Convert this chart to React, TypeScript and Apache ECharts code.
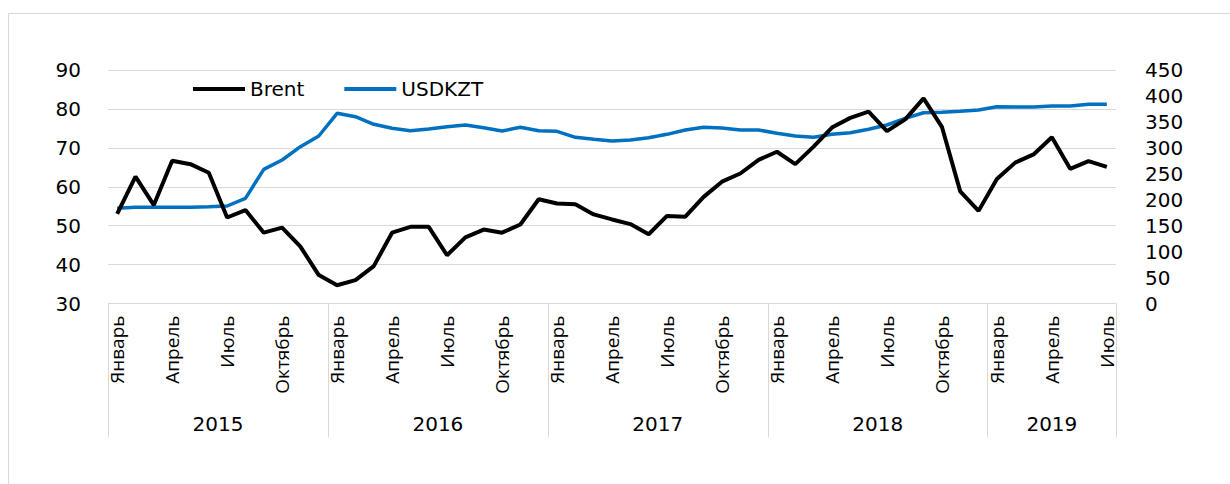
import React, { useEffect, useRef } from "react";
import * as echarts from "echarts";

const monthNames = ["Январь", "Февраль", "Март", "Апрель", "Май", "Июнь", "Июль", "Август", "Сентябрь", "Октябрь", "Ноябрь", "Декабрь"];
const years = ["2015", "2016", "2017", "2018", "2019"];
const monthsInYear = [12, 12, 12, 12, 7];

const brent = [
  53.0, 62.6, 55.3, 66.7, 65.8, 63.6, 52.1, 54.0, 48.2, 49.5, 44.6, 37.3,
  34.7, 36.0, 39.6, 48.2, 49.7, 49.7, 42.4, 47.0, 49.0, 48.2, 50.3, 56.8,
  55.7, 55.5, 52.9, 51.6, 50.4, 47.8, 52.5, 52.3, 57.4, 61.3, 63.4, 66.9,
  69.0, 65.8, 70.3, 75.2, 77.7, 79.3, 74.3, 77.3, 82.7, 75.4, 58.8, 53.8,
  62.0, 66.2, 68.3, 72.7, 64.6, 66.6, 65.1,
];
const usdkzt = [
  183.4, 185.4, 185.6, 185.6, 185.6, 186.5, 187.9, 202.7, 258.6, 276.5, 302.2, 322.8,
  366.5, 360.0, 345.3, 337.6, 333.0, 336.3, 340.7, 344.0, 338.8, 332.4, 339.5, 333.0,
  331.8, 320.3, 316.4, 313.1, 315.1, 319.5, 326.0, 334.3, 339.5, 338.2, 334.3, 334.3,
  328.0, 322.8, 320.3, 326.0, 329.2, 335.7, 344.0, 356.9, 367.7, 368.4, 370.5, 373.0,
  379.3, 378.6, 378.6, 380.6, 380.6, 383.8, 383.8,
];

// month categories
const categories: string[] = [];
years.forEach((y, yi) => {
  for (let m = 0; m < monthsInYear[yi]; m++) categories.push(monthNames[m]);
});

// half-month grid for the year row (points at month boundaries and mid-points)
const yearAxisData: string[] = [];
const yearLabelIdx: number[] = [];
const yearTickIdx: number[] = [0];
{
  let pos = 0;
  years.forEach((y, yi) => {
    const halfCount = monthsInYear[yi] * 2;
    yearLabelIdx.push(pos + Math.round(monthsInYear[yi]));
    pos += halfCount;
    yearTickIdx.push(pos);
  });
  for (let j = 0; j <= pos; j++) yearAxisData.push("");
  years.forEach((y, yi) => {
    yearAxisData[yearLabelIdx[yi]] = y;
  });
}

const FONT = "DejaVu Sans";
const GRID = "#d9d9d9";

export default function App() {
  const ref = useRef<HTMLDivElement>(null);
  useEffect(() => {
    if (!ref.current) return;
    const chart = echarts.init(ref.current, undefined, { renderer: "svg" });
    chart.setOption({
      animation: false,
      backgroundColor: "#ffffff",
      graphic: [
        {
          type: "rect",
          shape: { x: 8.5, y: 13.5, width: 1400, height: 700 },
          style: { fill: "none", stroke: GRID, lineWidth: 1 },
          silent: true,
        },
      ],
      legend: {
        left: 188,
        top: 74,
        icon: "rect",
        itemWidth: 52,
        itemHeight: 4,
        itemGap: 40,
        textStyle: { fontFamily: FONT, fontSize: 20, color: "#000" },
        data: ["Brent", "USDKZT"],
      },
      grid: { left: 108, right: 114, top: 70, bottom: 180.5, containLabel: false },
      xAxis: [
        {
          type: "category",
          data: categories,
          boundaryGap: true,
          axisLine: { show: true, lineStyle: { color: GRID, width: 1 } },
          axisTick: { show: false },
          axisLabel: {
            interval: (i: number) => i % 3 === 0,
            rotate: 90,
            margin: 12,
            fontFamily: "Open Sans",
            fontSize: 19,
            color: "#000",
          },
          splitLine: { show: false },
        },
        {
          type: "category",
          data: yearAxisData,
          boundaryGap: false,
          position: "bottom",
          axisLine: { show: false },
          axisTick: {
            show: true,
            interval: (i: number) => yearTickIdx.indexOf(i) >= 0,
            length: 134,
            lineStyle: { color: GRID, width: 1 },
          },
          axisLabel: {
            interval: (i: number) => yearLabelIdx.indexOf(i) >= 0,
            margin: 110,
            fontFamily: FONT,
            fontSize: 20,
            color: "#000",
          },
          splitLine: { show: false },
        },
      ],
      yAxis: [
        {
          type: "value",
          min: 30,
          max: 90,
          interval: 10,
          position: "left",
          axisLine: { show: false },
          axisTick: { show: false },
          axisLabel: { margin: 27, fontFamily: FONT, fontSize: 20, color: "#000" },
          splitLine: { show: true, lineStyle: { color: GRID, width: 1 } },
        },
        {
          type: "value",
          min: 0,
          max: 450,
          interval: 50,
          position: "right",
          axisLine: { show: false },
          axisTick: { show: false },
          axisLabel: { margin: 29, fontFamily: FONT, fontSize: 20, color: "#000" },
          splitLine: { show: false },
        },
      ],
      series: [
        {
          name: "Brent",
          type: "line",
          xAxisIndex: 0,
          yAxisIndex: 0,
          data: brent,
          symbol: "none",
          lineStyle: { color: "#000000", width: 4 },
          itemStyle: { color: "#000000" },
          z: 3,
        },
        {
          name: "USDKZT",
          type: "line",
          xAxisIndex: 0,
          yAxisIndex: 1,
          data: usdkzt,
          symbol: "none",
          lineStyle: { color: "#0070c0", width: 3.5 },
          itemStyle: { color: "#0070c0" },
          z: 2,
        },
      ],
    });
    return () => chart.dispose();
  }, []);
  return (
    <div
      ref={ref}
      style={{ position: "fixed", left: 0, top: 0, width: 1230, height: 484 }}
    />
  );
}
